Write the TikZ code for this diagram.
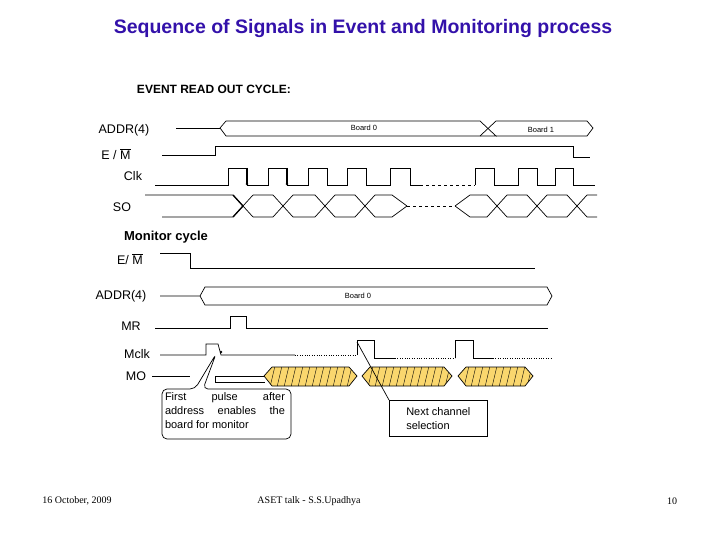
\documentclass[tikz,border=0pt]{standalone}
\usepackage{fontspec}
\setmainfont{Liberation Sans}
\newfontfamily\ser{Liberation Serif}
\definecolor{ttl}{RGB}{51,17,170}
\definecolor{hy}{RGB}{250,215,110}
\begin{document}
\begin{tikzpicture}[x=1pt,y=-1pt,sig/.style={line width=0.7pt},lbl/.style={font=\fontsize{12.5}{14}\selectfont,inner sep=0},tiny/.style={font=\fontsize{7.5}{8}\selectfont,inner sep=0}]
\useasboundingbox (0,0) rectangle (720,540);
\node[font=\bfseries\fontsize{19.5}{22}\selectfont,text=ttl] (title) at (363,29) {Sequence of Signals in Event and Monitoring process};
\node[font=\bfseries\fontsize{12}{13}\selectfont] (ev) at (214,89) {EVENT READ OUT CYCLE:};
% ADDR
\node[lbl] (a1) at (124,130) {ADDR(4)};
\draw[sig] (176,128) -- (220,128);
\draw[sig] (220,128) -- (226,121) -- (480,121) -- (496,136) -- (226,136) -- (220,128);
\draw[sig] (480,136) -- (496,121) -- (587,121) -- (593,128) -- (587,136) -- (496,136);
\node[tiny] (b0) at (364,128) {Board 0};
\node[tiny] (b1) at (541,130) {Board 1};
% E/M
\node[lbl] (em1) at (116,154) {E / $\overline{\mbox{M}}$};
\draw[sig] (162,155) -- (215,155) -- (215,146) -- (573,146) -- (573,157) -- (590,157);
% Clk
\node[lbl] (clk) at (133,176) {Clk};
\draw[sig] (155,185) -- (228,185) -- (228,168) -- (247,168) -- (247,185) -- (268,185) -- (268,168) -- (287,168) -- (287,185)
 -- (308,185) -- (308,168) -- (327,168) -- (327,185) -- (347,185) -- (347,168) -- (366,168) -- (366,185)
 -- (390,185) -- (390,168) -- (410,168) -- (410,185) -- (420,185);
\draw[sig,dashed] (420,185) -- (475,185);
\draw[sig] (475,185) -- (475,168) -- (494,168) -- (494,185) -- (518,185) -- (518,168) -- (537,168) -- (537,185) -- (555,185) -- (555,168) -- (573,168) -- (573,185) -- (595,185);
\draw[line width=1.3pt] (247,168) -- (247,184); \fill (247,184) circle (1.3);
\draw[line width=1.3pt] (287,168) -- (287,184); \fill (287,184) circle (1.3);
% SO
\node[lbl] (so) at (122,207) {SO};
\draw[sig] (145,195) -- (233,195) -- (253,217);
\draw[sig] (162,217) -- (233,217) -- (253,195);
\draw[line width=1.3pt] (233,217) -- (243,206) (233,195) -- (243,206);
\draw[sig] (253,195) -- (273,195) -- (293,217) -- (315,217) -- (335,195) -- (355,195) -- (375,217) -- (392,217) -- (407,206);
\draw[sig] (253,217) -- (273,217) -- (293,195) -- (315,195) -- (335,217) -- (355,217) -- (375,195) -- (392,195) -- (407,206);
\draw[sig,dashed] (407,206) -- (455,206);
\draw[sig] (455,206) -- (470,195) -- (487,195) -- (507,217) -- (527,217) -- (547,195) -- (567,195) -- (587,217) -- (597,217);
\draw[sig] (455,206) -- (470,217) -- (487,217) -- (507,195) -- (527,195) -- (547,217) -- (567,217) -- (587,195) -- (597,195);
% Monitor
\node[font=\bfseries\fontsize{13}{14}\selectfont] (mc) at (166,237) {Monitor cycle};
\node[lbl] (em2) at (130,259) {E/ $\overline{\mbox{M}}$};
\draw[sig] (160,253) -- (190,253) -- (190,268) -- (535,268);
\node[lbl] (a2) at (121,296) {ADDR(4)};
\draw[sig] (160,296) -- (200,296) -- (205,287) -- (547,287) -- (552,296) -- (547,305) -- (205,305) -- (200,296);
\node[tiny] (b02) at (358,296) {Board 0};
\node[lbl] (mr) at (131,326) {MR};
\draw[sig] (155,328) -- (230,328) -- (230,316) -- (246,316) -- (246,328) -- (548,328);
\node[lbl] (mclk) at (137,354) {Mclk};
\draw[sig] (160,355) -- (206,355) -- (206,344) -- (218,344) -- (221,355) -- (295,355);
\draw[thin,dotted] (295,355) -- (357,355);
\draw[sig] (357,355) -- (357,340) -- (374,340) -- (374,358) -- (395,358);
\draw[thin,dotted] (395,358) -- (455,358);
\draw[sig] (455,358) -- (455,340) -- (473,340) -- (473,358) -- (493,358);
\draw[thin,dotted] (493,358) -- (552,358);
\fill (221,352) circle (1.3);
\node[lbl] (mo) at (136,376) {MO};
\draw[sig] (152,376) -- (190,376);
\draw[sig] (215,376) -- (265,376) (215,376) -- (215,382) -- (265,382);
\foreach \a/\b in {264/357,362/452,458/533}{
 \filldraw[fill=hy,draw=black,sig] (\a,376) -- (\a+8,367) -- (\b-8,367) -- (\b,376) -- (\b-8,386) -- (\a+8,386) -- cycle;
 \begin{scope}
 \clip (\a,376) -- (\a+8,367) -- (\b-8,367) -- (\b,376) -- (\b-8,386) -- (\a+8,386) -- cycle;
 \foreach \k in {0,...,12}{\draw[thin] (\a+6+\k*7,387) -- (\a+11+\k*7,366);}
 \end{scope}}
% callouts
\draw[sig,rounded corners=5pt,fill=white] (162,389) -- (195,389) -- (216,354) -- (203,389) -- (291,389) -- (291,439) -- (162,439) -- cycle;
\node[text width=120pt,align=justify,inner sep=0,font=\fontsize{11}{14}\selectfont] (ct) at (225,411) {First\hfill pulse\hfill after\\ address\hfill enables\hfill the\\ board for monitor};
\node[draw,sig,inner sep=7pt,align=left,font=\fontsize{11}{14}\selectfont,anchor=north west,minimum width=98pt] (nc) at (389,400) {Next channel\\ selection};
\coordinate (np) at (357,342);
\draw[sig] (np) -- (nc.north west);
% footer
\node[font=\ser\fontsize{10}{11}\selectfont] (f1) at (77,501) {16 October, 2009};
\node[font=\ser\fontsize{10}{11}\selectfont] (f2) at (309,501) {ASET talk - S.S.Upadhya};
\node[font=\ser\fontsize{10}{11}\selectfont] (f3) at (672,501) {10};
\end{tikzpicture}
\end{document}
